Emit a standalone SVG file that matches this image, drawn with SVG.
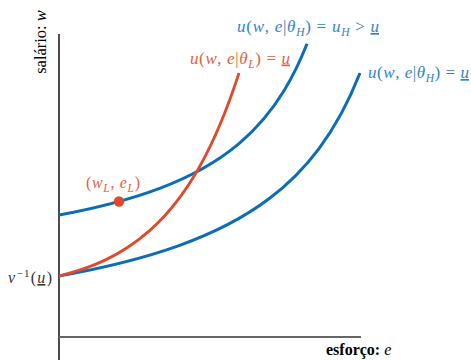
<svg xmlns="http://www.w3.org/2000/svg" width="471" height="360" viewBox="0 0 471 360">
<style>
text{font-family:"Liberation Serif","DejaVu Serif",serif;font-size:16px}
.lab{font-size:17px}
.i{font-style:italic}
.sub{font-size:11.5px;font-style:italic}
.blue{fill:#2e86c6}
.red{fill:#e5603f}
.gray{fill:#333}
.cb{fill:none;stroke:#0b6db3;stroke-width:3;stroke-linecap:butt}
.cr{fill:none;stroke:#e04a2c;stroke-width:2.8;stroke-linecap:butt}
.u{text-decoration:underline}
</style>
<g id="axes">
<line x1="59" y1="34" x2="59" y2="360" stroke="#000" stroke-width="1.4"/>
<line x1="59" y1="337" x2="361" y2="337" stroke="#666" stroke-width="2"/>
<text transform="translate(46,42) rotate(-90)" text-anchor="middle" style="font-size:16.5px">salário: <tspan class="i">w</tspan></text>
<text x="326" y="355" style="font-weight:bold">esforço: <tspan class="i" style="font-weight:normal">e</tspan></text>
<text x="8" y="283" textLength="44" lengthAdjust="spacing" class="gray"><tspan class="i">v</tspan><tspan dy="-6" style="font-size:11px">−1</tspan><tspan dy="6">(</tspan><tspan class="i u">u</tspan>)</text>
</g>
<g id="connectors">
<path id="curve-high" class="cb" d="M59,215 C92.33,208.77 125.67,201.03 159,188.53 C185.67,178.53 212.33,166.03 239,143.53 C254,130.87 269,115.2 284,90.7 C291.67,78.18 299.33,63.32 307,43.75"/>
<path id="curve-low" class="cb" d="M59,276 C99,268.83 139,259.93 179,245.59 C209,234.84 239,221.41 269,198.81 C285.67,186.25 302.33,170.91 319,148.58 C332.67,130.27 346.33,107.68 360,73"/>
<path id="curve-red" class="cr" d="M59,276 C89,268.54 119,257.44 149,231.15 C165.67,216.54 182.33,197.12 199,167.7 C212.33,144.17 225.67,114.2 239,73"/>
</g>
<g id="label-high">
<text x="237" y="32" class="blue lab" textLength="142" lengthAdjust="spacing"><tspan class="i">u</tspan>(<tspan class="i">w</tspan>, <tspan class="i">e</tspan>|<tspan class="i">θ</tspan><tspan class="sub" dy="4">H</tspan><tspan dy="-4">) = </tspan><tspan class="i">u</tspan><tspan class="sub" dy="4">H</tspan><tspan dy="-4"> &gt; </tspan><tspan class="i u">u</tspan></text>
</g>
<g id="label-red">
<text x="190" y="63.5" class="red lab" textLength="100" lengthAdjust="spacing"><tspan class="i">u</tspan>(<tspan class="i">w</tspan>, <tspan class="i">e</tspan>|<tspan class="i">θ</tspan><tspan class="sub" dy="4">L</tspan><tspan dy="-4">) = </tspan><tspan class="i u">u</tspan></text>
</g>
<g id="label-low">
<text x="368" y="78" class="blue lab" textLength="101" lengthAdjust="spacing"><tspan class="i">u</tspan>(<tspan class="i">w</tspan>, <tspan class="i">e</tspan>|<tspan class="i">θ</tspan><tspan class="sub" dy="4">H</tspan><tspan dy="-4">) = </tspan><tspan class="i u">u</tspan></text>
</g>
<g id="point-L">
<circle cx="119" cy="201.5" r="5.2" fill="#e04a2c"/>
<text x="86" y="188" class="red" textLength="54" lengthAdjust="spacing">(<tspan class="i">w</tspan><tspan class="sub" dy="4">L</tspan><tspan dy="-4">, </tspan><tspan class="i">e</tspan><tspan class="sub" dy="4">L</tspan><tspan dy="-4">)</tspan></text>
</g>
</svg>
